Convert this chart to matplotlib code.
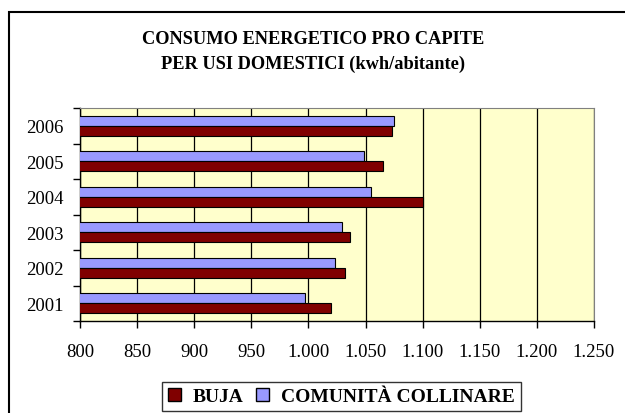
import matplotlib.pyplot as plt
from matplotlib.patches import Patch, Rectangle
from matplotlib.ticker import FuncFormatter, FixedLocator
import numpy as np

# ── DATA ──────────────────────────────────────────────────────────────────────
anni      = ["2001", "2002", "2003", "2004", "2005", "2006"]
buja      = [1020, 1032, 1036, 1100, 1065, 1073]
comunita  = [997, 1023, 1029, 1055, 1049, 1075]
x_ticks   = [800, 850, 900, 950, 1000, 1050, 1100, 1150, 1200, 1250]

RED   = "#800000"
BLUE  = "#9999FF"
PANEL = "#FFFFCC"

plt.rcParams["font.family"] = ["Liberation Serif", "DejaVu Serif"]

# ── FIGURE ────────────────────────────────────────────────────────────────────
W, H = 625, 414
fig = plt.figure(figsize=(W / 100, H / 100), dpi=100)

# outer chart frame (runs off the right and bottom edges)
fig.patches.append(Rectangle((9 / W, -0.1), 1.0, 1 - 13 / H + 0.1,
                             transform=fig.transFigure, fill=False,
                             edgecolor="black", lw=1.5, clip_on=False))

ax = fig.add_axes([80 / W, 1 - 322 / H, (594 - 80) / W, (322 - 109) / H])
ax.set_facecolor(PANEL)

y = np.arange(len(anni))
h = 0.285
ax.barh(y + h / 2, comunita, height=h, color=BLUE, edgecolor="black", lw=0.8, zorder=3)
ax.barh(y - h / 2, buja, height=h, color=RED, edgecolor="black", lw=0.8, zorder=3)

ax.set_xlim(800, 1250)
ax.set_ylim(-0.5, len(anni) - 0.5)

ax.xaxis.set_major_locator(FixedLocator(x_ticks))
ax.xaxis.set_major_formatter(FuncFormatter(lambda v, p: f"{int(v):,}".replace(",", ".")))
ax.tick_params(axis="x", direction="out", length=5, width=1, pad=11, labelsize=13.5)
ax.grid(axis="x", color="black", lw=0.9, zorder=1)

# year ticks sit between categories, labels at the centre
ax.set_yticks(np.arange(-0.5, len(anni), 1.0))
ax.set_yticklabels([])
ax.set_yticks(y, minor=True)
ax.set_yticklabels(anni, minor=True)
ax.tick_params(axis="y", which="major", direction="out", length=5, width=1)
ax.tick_params(axis="y", which="minor", length=0, pad=12, labelsize=13.5)

for s in ["top", "right"]:
    ax.spines[s].set_color("#808080")
for s in ["left", "bottom"]:
    ax.spines[s].set_color("black")
    ax.spines[s].set_linewidth(1)

fig.text(313 / W, 1 - 44 / H, "CONSUMO ENERGETICO PRO CAPITE",
         ha="center", va="baseline", fontsize=13.2, fontweight="bold")
fig.text(313 / W, 1 - 69 / H, "PER USI DOMESTICI (kwh/abitante)",
         ha="center", va="baseline", fontsize=13.2, fontweight="bold")

handles = [Patch(facecolor=RED, edgecolor="black", label="BUJA"),
           Patch(facecolor=BLUE, edgecolor="black", label="COMUNITÀ COLLINARE")]
leg = fig.legend(handles=handles, loc="upper left", bbox_to_anchor=(162 / W, 1 - 383 / H),
                 ncol=2, frameon=True, fancybox=False, handlelength=0.67, handleheight=0.67,
                 handletextpad=0.62, columnspacing=0.62, borderpad=0.31, borderaxespad=0,
                 prop={"weight": "bold", "size": 14})
leg.get_frame().set_edgecolor("black")
leg.get_frame().set_linewidth(1)

plt.savefig("out.png", dpi=100)
